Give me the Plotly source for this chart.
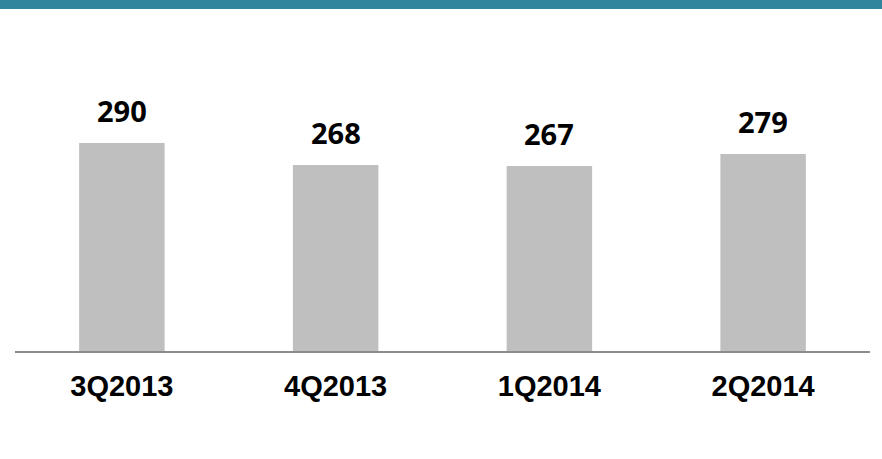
import plotly.graph_objects as go

quarters = ["3Q2013", "4Q2013", "1Q2014", "2Q2014"]
values = [290, 268, 267, 279]

bar_color = "#BFBFBF"
band_color = "#31859C"

fig = go.Figure()
fig.add_trace(go.Bar(x=quarters, y=values, marker=dict(color=bar_color, line=dict(width=0)),
                     hoverinfo="skip"))

# value labels above the bars
for q, v in zip(quarters, values):
    fig.add_annotation(x=q, y=v, text=str(v), showarrow=False, yanchor="bottom", yshift=11,
                       font=dict(family="Open Sans", size=29, color="black", weight="bold"))

# header band across the top
fig.add_shape(type="rect", xref="paper", yref="paper", x0=-15 / 855, x1=867 / 855,
              y0=1 - 9 / 351, y1=1.0, fillcolor=band_color, line=dict(width=0), layer="above")

fig.update_layout(
    width=882, height=459,
    margin=dict(l=15, r=12, t=0, b=108),
    paper_bgcolor="white", plot_bgcolor="white",
    bargap=0.6, showlegend=False,
    xaxis=dict(showline=True, linecolor="#8C8C8C", linewidth=2, showgrid=False,
               tickfont=dict(family="Liberation Sans", size=29, color="black", weight="bold"),
               ticklabelstandoff=8),
    yaxis=dict(range=[82, 433], visible=False, showgrid=False, zeroline=False),
)

fig.write_html("out.html", config={"displayModeBar": False},
               post_script="document.body.style.margin = '0';")
